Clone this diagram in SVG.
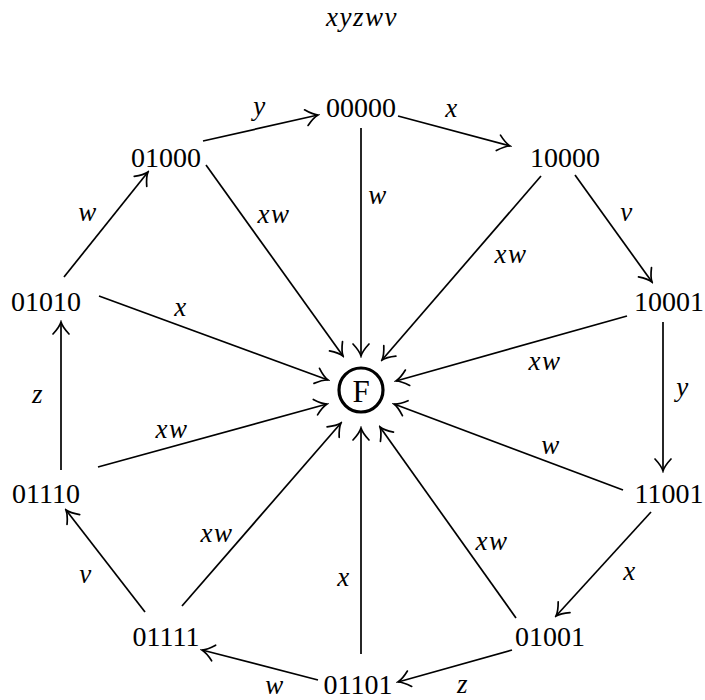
<svg xmlns="http://www.w3.org/2000/svg" width="705" height="700" viewBox="0 0 705 700">
  <defs>
    <marker id="to" viewBox="-14 -10 16 20" refX="0" refY="0" markerWidth="16" markerHeight="20" markerUnits="userSpaceOnUse" orient="auto">
      <path d="M -12,-8 Q -5,-1.5 0,0 Q -5,1.5 -12,8" fill="none" stroke="#000" stroke-width="1.7" stroke-linecap="round"/>
    </marker>
  </defs>
  <style>
    .st { font-family: "Liberation Serif", "DejaVu Serif", serif; font-size: 28px; fill: #000; text-anchor: middle; dominant-baseline: central; }
    .lb { font-family: "Liberation Serif", "DejaVu Serif", serif; font-style: italic; font-size: 27px; letter-spacing: 1.5px; fill: #000; text-anchor: middle; dominant-baseline: central; }
    .e { stroke: #000; stroke-width: 1.7; fill: none; marker-end: url(#to); }
  </style>
  <rect width="705" height="700" fill="#fff"/>

  <text class="lb" x="362" y="17">xyzwv</text>

  <g id="connectors">
    <!-- ring of transitions -->
    <line class="e" x1="203" y1="141" x2="318" y2="115"/>
    <line class="e" x1="398" y1="116" x2="510" y2="146"/>
    <line class="e" x1="575" y1="175" x2="652" y2="282"/>
    <line class="e" x1="663" y1="322" x2="663" y2="471"/>
    <line class="e" x1="651" y1="512" x2="556" y2="616"/>
    <line class="e" x1="512" y1="650" x2="398" y2="682"/>
    <line class="e" x1="318" y1="680" x2="202" y2="650"/>
    <line class="e" x1="145" y1="612" x2="66" y2="510"/>
    <line class="e" x1="61" y1="470" x2="61" y2="322"/>
    <line class="e" x1="64" y1="277" x2="148" y2="172"/>
    <!-- spokes into F -->
    <line class="e" x1="361" y1="128" x2="361" y2="356"/>
    <line class="e" x1="541" y1="176" x2="382" y2="360"/>
    <line class="e" x1="627" y1="316" x2="396" y2="381"/>
    <line class="e" x1="623" y1="490" x2="394" y2="404"/>
    <line class="e" x1="516" y1="618" x2="380" y2="427"/>
    <line class="e" x1="361" y1="654" x2="361" y2="428"/>
    <line class="e" x1="182" y1="606" x2="341" y2="423"/>
    <line class="e" x1="98" y1="467" x2="327" y2="404"/>
    <line class="e" x1="99" y1="296" x2="328" y2="380"/>
    <line class="e" x1="206" y1="165" x2="343" y2="356"/>

    <!-- edge labels -->
    <text class="lb" x="260" y="106">y</text>
    <text class="lb" x="452" y="108">x</text>
    <text class="lb" x="627" y="212">v</text>
    <text class="lb" x="683" y="387">y</text>
    <text class="lb" x="630" y="571">x</text>
    <text class="lb" x="463" y="684">z</text>
    <text class="lb" x="275" y="685">w</text>
    <text class="lb" x="86" y="574">v</text>
    <text class="lb" x="38" y="394">z</text>
    <text class="lb" x="88" y="212">w</text>
    <text class="lb" x="378" y="195">w</text>
    <text class="lb" x="511" y="254">xw</text>
    <text class="lb" x="545" y="361">xw</text>
    <text class="lb" x="551" y="445">w</text>
    <text class="lb" x="492" y="541">xw</text>
    <text class="lb" x="344" y="577">x</text>
    <text class="lb" x="217" y="533">xw</text>
    <text class="lb" x="172" y="429">xw</text>
    <text class="lb" x="181" y="307">x</text>
    <text class="lb" x="274" y="214">xw</text>
  </g>

  <g id="n00000"><text class="st" x="361" y="107">00000</text></g>
  <g id="n10000"><text class="st" x="565" y="157">10000</text></g>
  <g id="n10001"><text class="st" x="669" y="301">10001</text></g>
  <g id="n11001"><text class="st" x="669" y="493">11001</text></g>
  <g id="n01001"><text class="st" x="550" y="636">01001</text></g>
  <g id="n01101"><text class="st" x="358" y="684">01101</text></g>
  <g id="n01111"><text class="st" x="166" y="636">01111</text></g>
  <g id="n01110"><text class="st" x="46" y="493">01110</text></g>
  <g id="n01010"><text class="st" x="46" y="301">01010</text></g>
  <g id="n01000"><text class="st" x="166" y="157">01000</text></g>
  <g id="F">
    <circle cx="361" cy="390" r="22" fill="none" stroke="#000" stroke-width="3.2"/>
    <text class="st" x="361" y="391" style="font-size:31px">F</text>
  </g>
</svg>
